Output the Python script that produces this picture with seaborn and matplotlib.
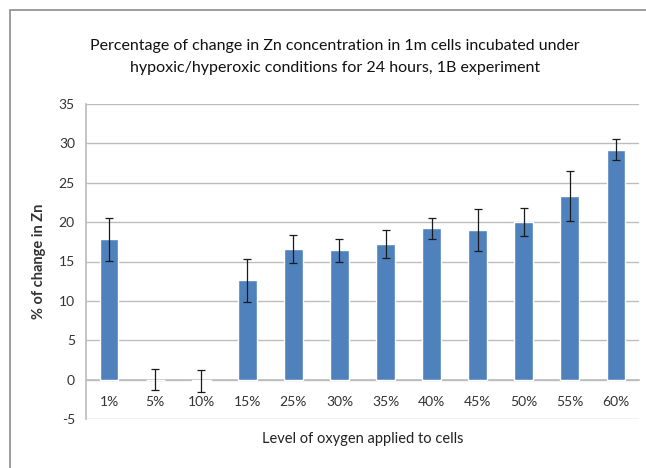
import numpy as np
import pandas as pd
import matplotlib
matplotlib.use("Agg")
import matplotlib.pyplot as plt
import seaborn as sns
from matplotlib.patches import Rectangle

# --- Dados ---
niveis_oxigenio = ['1%', '5%', '10%', '15%', '25%', '30%', '35%', '40%', '45%', '50%', '55%', '60%']
variacao_zn = [17.8, 0.0, -0.2, 12.6, 16.6, 16.4, 17.2, 19.2, 19.0, 20.0, 23.3, 29.2]
erro_zn = [2.7, 1.35, 1.4, 2.7, 1.8, 1.4, 1.8, 1.35, 2.7, 1.8, 3.2, 1.35]

titulo = ("Percentage of change in Zn concentration in 1m cells incubated under\n"
          "hypoxic/hyperoxic conditions for 24 hours, 1B experiment")

sns.set_theme(style="white")
plt.rcParams['font.family'] = ['Lato', 'DejaVu Sans']
plt.rcParams['axes.unicode_minus'] = False

cor_barra = '#4F81BD'
cor_grade = '#BDBDBD'

df = pd.DataFrame({'Nivel': niveis_oxigenio, 'Variacao': variacao_zn, 'Erro': erro_zn})

fig = plt.figure(figsize=(6.46, 4.68), dpi=100)
ax = fig.add_axes([86 / 646, 1 - 419 / 468, (639 - 86) / 646, (419 - 104) / 468])

sns.barplot(data=df, x='Nivel', y='Variacao', color=cor_barra, width=0.41,
            saturation=1, ax=ax, zorder=3)
ax.errorbar(np.arange(len(df)), df['Variacao'], yerr=df['Erro'], fmt='none',
            ecolor='#1a1a1a', elinewidth=0.9, capsize=3, capthick=0.9, zorder=4)

ax.set_ylim(-5, 35)
ax.set_xlim(-0.5, len(df) - 0.5)
ax.set_yticks(np.arange(-5, 36, 5))
ax.yaxis.grid(True, color=cor_grade, linewidth=1)
ax.set_axisbelow(True)

# eixo horizontal no zero, rótulos na parte de baixo
for lado in ['top', 'right']:
    ax.spines[lado].set_visible(False)
ax.spines['bottom'].set_position(('data', 0))
ax.spines['bottom'].set_color(cor_grade)
ax.spines['left'].set_color(cor_grade)
ax.set_xticks(np.arange(len(df)))
ax.set_xticks(np.arange(len(df) + 1) - 0.5, minor=True)
ax.tick_params(axis='x', which='major', length=0, pad=12, labelsize=10, colors='#333333')
ax.tick_params(axis='x', which='minor', length=5, direction='out', color=cor_grade, width=1)
ax.tick_params(axis='y', length=5, color=cor_grade, width=1, labelsize=10, colors='#333333', pad=3)

ax.set_xlabel('Level of oxygen applied to cells', fontsize=10.5, color='#222222', labelpad=17)
ax.set_ylabel('% of change in Zn', fontsize=10.5, fontweight='bold', color='#333333', labelpad=9)
fig.text(335 / 646, 1 - 57 / 468, titulo, ha='center', va='center', fontsize=11.5,
         color='#111111', linespacing=1.65)

# moldura da área do gráfico
fig.patches.append(Rectangle((10 / 646, -0.1), 1.0, 1 - 10 / 468 + 0.1,
                             transform=fig.transFigure, fill=False,
                             edgecolor='#8c8c8c', linewidth=1.2))

fig.savefig('out.png', dpi=100)
